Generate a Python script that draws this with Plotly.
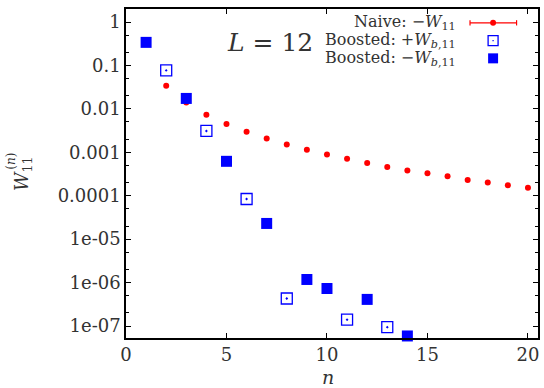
import plotly.graph_objects as go

# Naive: -W11
n_naive = list(range(2, 21))
w_naive = [0.034, 0.0141, 0.0073, 0.0045, 0.00297, 0.00209, 0.00152, 0.00115, 0.00089,
           0.00071, 0.00057, 0.00046, 0.00038, 0.00033, 0.00028, 0.00023, 0.000203,
           0.000175, 0.000152]

# Boosted: +W_b,11 (open squares)
n_bplus = [2, 4, 6, 8, 11, 13]
w_bplus = [0.077, 0.0031, 8.4e-5, 4.3e-7, 1.4e-7, 9.4e-8]

# Boosted: -W_b,11 (filled squares)
n_bminus = [1, 3, 5, 7, 9, 10, 12, 14]
w_bminus = [0.34, 0.0174, 6.2e-4, 2.3e-5, 1.18e-6, 7.3e-7, 4.1e-7, 5.9e-8]

x_ticks = [0, 5, 10, 15, 20]
y_tickvals = [1, 0.1, 0.01, 0.001, 0.0001, 1e-5, 1e-6, 1e-7]
y_ticktext = ["1", "0.1", "0.01", "0.001", "0.0001", "1e-05", "1e-06", "1e-07"]

legend_labels = ["Naive: \u2212<i>W</i><sub>11</sub>",
                 "Boosted: +<i>W</i><sub><i>b</i>,11</sub>",
                 "Boosted: \u2212<i>W</i><sub><i>b</i>,11</sub>"]

FONT = "'DejaVu Serif', 'Liberation Serif', serif"
TXT = "#333333"

fig = go.Figure()
fig.add_trace(go.Scatter(x=n_naive, y=w_naive, mode="markers",
                         marker=dict(color="red", size=6, symbol="circle"),
                         cliponaxis=False, showlegend=False))
fig.add_trace(go.Scatter(x=n_bplus, y=w_bplus, mode="markers",
                         marker=dict(color="blue", size=11, symbol="square-open-dot",
                                     line=dict(width=1.3, color="blue")),
                         cliponaxis=False, showlegend=False))
fig.add_trace(go.Scatter(x=n_bminus, y=w_bminus, mode="markers",
                         marker=dict(color="blue", size=11, symbol="square",
                                     line=dict(width=0)),
                         cliponaxis=False, showlegend=False))

axis_common = dict(showline=True, linecolor="black", linewidth=1.5, mirror="ticks",
                   ticks="inside", ticklen=5, tickcolor="black", showgrid=False,
                   zeroline=False, tickfont=dict(family=FONT, size=18, color=TXT))

fig.update_xaxes(range=[0, 20.5], tickvals=x_ticks, **axis_common)
fig.update_yaxes(type="log", range=[-7.276, 0.3], tickvals=y_tickvals, ticktext=y_ticktext,
                 minor=dict(ticks="inside", ticklen=3, dtick="D2", tickcolor="black"),
                 **axis_common)

ann = []
# legend text
ys = [0.958, 0.904, 0.850]
for lab, yy in zip(legend_labels, ys):
    ann.append(dict(x=0.806, y=yy, xref="paper", yref="paper", text=lab, showarrow=False,
                    xanchor="right", yanchor="middle",
                    font=dict(family=FONT, size=16, color=TXT)))
ann.append(dict(x=0.35, y=0.897, xref="paper", yref="paper", text="<i>L</i> = 12",
                showarrow=False, xanchor="center", yanchor="middle",
                font=dict(family=FONT, size=25, color=TXT)))
# y-axis title: W_11 with stacked (n)
ann.append(dict(x=-0.251, y=0.5, xref="paper", yref="paper",
                text="<i>W</i><sub>11</sub>", textangle=-90,
                showarrow=False, xanchor="center", yanchor="middle",
                font=dict(family=FONT, size=18, color=TXT)))
ann.append(dict(x=-0.279, y=0.536, xref="paper", yref="paper",
                text="(<i>n</i>)", textangle=-90,
                showarrow=False, xanchor="center", yanchor="middle",
                font=dict(family=FONT, size=12, color=TXT)))
ann.append(dict(x=0.49, y=-0.1185, xref="paper", yref="paper", text="<i>n</i>",
                showarrow=False, xanchor="center", yanchor="middle",
                font=dict(family=FONT, size=19, color=TXT)))

shapes = []
# legend samples
xc = 0.891
y0 = ys[0]
shapes.append(dict(type="line", xref="paper", yref="paper", x0=0.835, x1=0.948, y0=y0, y1=y0,
                   line=dict(color="red", width=1.2)))
for xe in (0.835, 0.948):
    shapes.append(dict(type="line", xref="paper", yref="paper", x0=xe, x1=xe,
                       y0=y0 - 0.008, y1=y0 + 0.008, line=dict(color="red", width=1.2)))
shapes.append(dict(type="circle", xref="paper", yref="paper", x0=xc - 0.0072, x1=xc + 0.0072,
                   y0=y0 - 0.009, y1=y0 + 0.009, fillcolor="red", line=dict(width=0)))
hw, hh = 0.0121, 0.0152
shapes.append(dict(type="rect", xref="paper", yref="paper", x0=xc - hw, x1=xc + hw,
                   y0=ys[1] - hh, y1=ys[1] + hh, line=dict(color="blue", width=1.3)))
shapes.append(dict(type="rect", xref="paper", yref="paper", x0=xc - 0.0015, x1=xc + 0.0015,
                   y0=ys[1] - 0.002, y1=ys[1] + 0.002, fillcolor="blue", line=dict(width=0)))
shapes.append(dict(type="rect", xref="paper", yref="paper", x0=xc - hw, x1=xc + hw,
                   y0=ys[2] - hh, y1=ys[2] + hh, fillcolor="blue", line=dict(width=0)))

fig.update_layout(width=544, height=388, margin=dict(l=126, r=4, t=9, b=50),
                  paper_bgcolor="white", plot_bgcolor="white",
                  annotations=ann, shapes=shapes, showlegend=False)

fig.write_html("out.html")
